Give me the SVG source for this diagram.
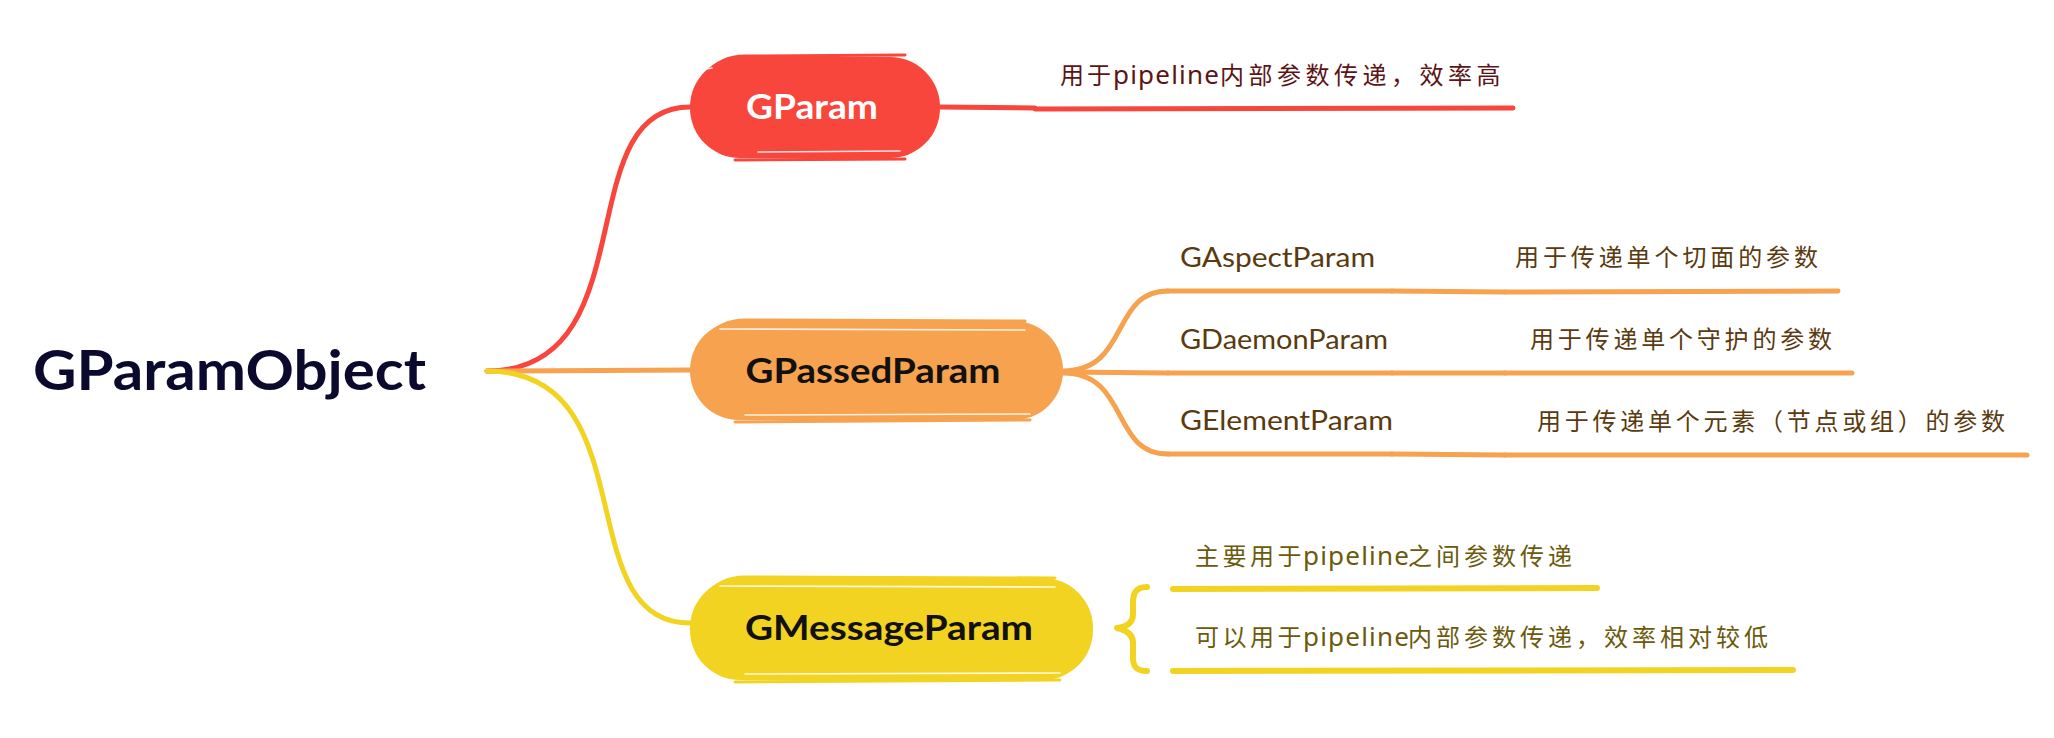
<svg xmlns="http://www.w3.org/2000/svg" width="2054" height="738" viewBox="0 0 2054 738">
<style>
.bg{fill:#ffffff}
.c{fill:none;stroke-linecap:round;stroke-linejoin:round}
.red{stroke:#F9463D}
.org{stroke:#F6A24E}
.yel{stroke:#F2D322}
.w5{stroke-width:5}
.w6{stroke-width:6}
.hl{fill:none;stroke:#ffffff;stroke-width:1.6;stroke-linecap:round;opacity:0.85}
.title{font-family:"Lato","Liberation Sans",sans-serif;font-weight:bold}
.lab{font-family:"Lato","Liberation Sans",sans-serif}
.cjk{font-family:"Noto Sans","Noto Sans CJK SC",sans-serif;font-size:24px}
.lat{font-size:26px;letter-spacing:1.2px}
</style>
<rect class="bg" x="0" y="0" width="2054" height="738"/>

<g id="connectors">
  <path class="c red w5" d="M487,371 C649,371 567,107 690,107"/>
  <path class="c org w5" d="M487,371 L690,370"/>
  <path class="c yel w5" d="M487,371 C649,371 567,623 690,623"/>
  <path class="c red w5" d="M940,107 L1035,108"/>
  <path class="c org w5" d="M1063,371 C1130,371 1110,291 1168,291"/>
  <path class="c org w5" d="M1063,372 L1168,373"/>
  <path class="c org w5" d="M1063,373 C1130,373 1110,454 1168,454"/>
  <path class="c org w5" d="M1392,291 L1505,292"/>
  <path class="c org w5" d="M1392,373 L1505,373"/>
  <path class="c org w5" d="M1392,454 L1505,455"/>
  <path class="c yel w6" d="M1147,587 C1135,587 1133,594 1133,604 L1133,614 C1133,623 1126,627 1117,628 C1126,630 1133,634 1133,643 L1133,658 C1133,667 1137,671 1147,671"/>
</g>

<g id="root">
  <text class="title" x="33" y="390" font-size="56" fill="#0B0A2E" textLength="393" lengthAdjust="spacingAndGlyphs">GParamObject</text>
</g>

<g id="gparam">
  <rect x="690" y="57" width="250" height="101" rx="50" fill="#F9463D"/>
  <path class="c red" stroke-width="3" d="M706,74 C716,62 730,56 745,56 L905,55"/>
  <path class="c red" stroke-width="3" d="M735,160 L905,159"/>
  <path class="hl" d="M758,152 L900,151"/>
  <path class="hl" d="M700,70 L712,68"/>
  <text class="title" x="812" y="119" font-size="34" fill="#ffffff" text-anchor="middle" textLength="132" lengthAdjust="spacingAndGlyphs">GParam</text>
</g>
<g id="gparam-desc">
  <text class="cjk" y="84" fill="#5C1414"><tspan x="1060" letter-spacing="3">用于</tspan><tspan x="1113" class="lat">pipeline</tspan><tspan x="1220" letter-spacing="4.5">内部参数传递，效率高</tspan></text>
  <path class="c red w5" d="M1035,109 L1513,108"/>
</g>

<g id="gpassed">
  <rect x="690" y="321" width="373" height="99" rx="49" fill="#F6A24E"/>
  <path class="c org" stroke-width="3" d="M706,338 C716,326 730,320 745,320 L1025,321"/>
  <path class="c org" stroke-width="3" d="M735,422 L1030,420"/>
  <path class="hl" d="M720,329 L1025,330"/>
  <path class="hl" d="M745,415 L1030,414"/>
  <text class="title" x="873" y="383" font-size="34" fill="#111111" text-anchor="middle" textLength="255" lengthAdjust="spacingAndGlyphs">GPassedParam</text>
</g>

<g id="gaspect">
  <text class="lab" x="1180" y="267" font-size="26" fill="#5A3A0E" textLength="195" lengthAdjust="spacingAndGlyphs">GAspectParam</text>
  <path class="c org w5" d="M1168,291 L1392,291"/>
</g>
<g id="gaspect-desc">
  <text class="cjk" x="1515" y="266" fill="#5A3A0E" textLength="303">用于传递单个切面的参数</text>
  <path class="c org w5" d="M1505,292 L1838,291"/>
</g>

<g id="gdaemon">
  <text class="lab" x="1180" y="349" font-size="26" fill="#5A3A0E" textLength="208" lengthAdjust="spacingAndGlyphs">GDaemonParam</text>
  <path class="c org w5" d="M1168,373 L1392,373"/>
</g>
<g id="gdaemon-desc">
  <text class="cjk" x="1530" y="348" fill="#5A3A0E" textLength="302">用于传递单个守护的参数</text>
  <path class="c org w5" d="M1505,373 L1852,373"/>
</g>

<g id="gelement">
  <text class="lab" x="1180" y="430" font-size="26" fill="#5A3A0E" textLength="213" lengthAdjust="spacingAndGlyphs">GElementParam</text>
  <path class="c org w5" d="M1168,454 L1392,454"/>
</g>
<g id="gelement-desc">
  <text class="cjk" x="1537" y="430" fill="#5A3A0E" textLength="468">用于传递单个元素（节点或组）的参数</text>
  <path class="c org w5" d="M1505,455 L2027,455"/>
</g>

<g id="gmessage">
  <rect x="690" y="578" width="403" height="102" rx="50" fill="#F2D322"/>
  <path class="c yel" stroke-width="3" d="M706,595 C716,583 730,577 745,577 L1055,578"/>
  <path class="c yel" stroke-width="3" d="M735,682 L1060,680"/>
  <path class="hl" d="M720,586 L1055,587"/>
  <path class="hl" d="M745,674 L1060,673"/>
  <text class="title" x="889" y="640" font-size="34" fill="#111111" text-anchor="middle" textLength="288" lengthAdjust="spacingAndGlyphs">GMessageParam</text>
</g>

<g id="gmessage-desc1">
  <text class="cjk" y="565" fill="#6B5A0C"><tspan x="1195" letter-spacing="3.5">主要用于</tspan><tspan x="1303" class="lat">pipeline</tspan><tspan x="1408" letter-spacing="4">之间参数传递</tspan></text>
  <path class="c yel w6" d="M1173,589 L1597,588"/>
</g>
<g id="gmessage-desc2">
  <text class="cjk" y="646" fill="#6B5A0C"><tspan x="1195" letter-spacing="3.5">可以用于</tspan><tspan x="1303" class="lat">pipeline</tspan><tspan x="1408" letter-spacing="4">内部参数传递，效率相对较低</tspan></text>
  <path class="c yel w6" d="M1173,671 L1793,670"/>
</g>
</svg>
